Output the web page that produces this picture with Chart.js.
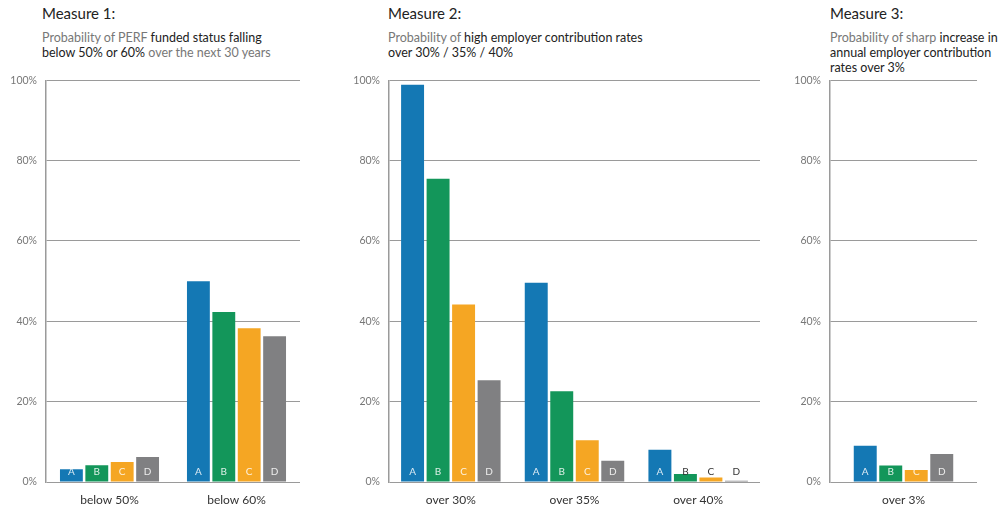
<!DOCTYPE html>
<html>
<head>
<meta charset="utf-8">
<script src="https://cdn.jsdelivr.net/npm/chart.js@4.4.0/dist/chart.umd.min.js"></script>
<style>
  body { margin: 0; background: #fff; font-family: Lato, "Open Sans", sans-serif; }
  #page { position: relative; width: 1005px; height: 507px; overflow: hidden; }
  .head { position: absolute; top: 4px; font-size: 15px; color: #222; }
  .sub { position: absolute; top: 30px; font-size: 12.5px; line-height: 15px; color: #777; }
  .sub b { font-weight: normal; color: #222; }
  .box { position: absolute; top: 65px; height: 442px; }
</style>
</head>
<body>
<div id="page">
  <div class="head" style="left:42px">Measure 1:</div>
  <div class="sub" style="left:42px">Probability of PERF <b>funded status falling<br>below 50% or 60%</b> over the next 30 years</div>
  <div class="head" style="left:388px">Measure 2:</div>
  <div class="sub" style="left:388px">Probability of <b>high employer contribution rates<br>over 30% / 35% / 40%</b></div>
  <div class="head" style="left:830px">Measure 3:</div>
  <div class="sub" style="left:830px">Probability of sharp <b>increase in<br>annual employer contribution<br>rates over 3%</b></div>

  <div class="box" style="left:0px;width:310px"><canvas id="chart1"></canvas></div>
  <div class="box" style="left:343px;width:427px"><canvas id="chart2"></canvas></div>
  <div class="box" style="left:784px;width:203px"><canvas id="chart3"></canvas></div>
</div>
<script>
// Measure 1: funded status below 50% / 60%
var m1Labels = ['below 50%', 'below 60%'];
var m1A = [3.2, 50.0];
var m1B = [4.2, 42.3];
var m1C = [5.0, 38.3];
var m1D = [6.2, 36.3];

// Measure 2: contribution rates over 30% / 35% / 40%
var m2Labels = ['over 30%', 'over 35%', 'over 40%'];
var m2A = [98.9, 49.6, 8.0];
var m2B = [75.5, 22.6, 2.0];
var m2C = [44.2, 10.4, 1.1];
var m2D = [25.3, 5.3, 0.3];

// Measure 3: sharp increase over 3%
var m3Labels = ['over 3%'];
var m3A = [9.0];
var m3B = [4.1];
var m3C = [3.0];
var m3D = [7.0];

var yTicks = [0, 20, 40, 60, 80, 100];
var seriesNames = ['A', 'B', 'C', 'D'];
var seriesColors = ['#1478b4', '#13965a', '#f5a623', '#808082'];

// letters at the foot of each bar
var letterPlugin = {
  id: 'letters',
  afterDatasetsDraw: function(chart) {
    var ctx = chart.ctx;
    var bottom = chart.chartArea.bottom;
    ctx.save();
    ctx.font = '10px Lato, sans-serif';
    ctx.textAlign = 'center';
    ctx.textBaseline = 'middle';
    chart.data.datasets.forEach(function(ds, i) {
      var meta = chart.getDatasetMeta(i);
      meta.data.forEach(function(bar, j) {
        ctx.fillStyle = ds.data[j] >= 2.5 ? 'rgba(255,255,255,0.85)' : '#333';
        ctx.fillText(ds.label, bar.x, bottom - 10);
      });
    });
    ctx.restore();
  }
};

function makeChart(id, labels, a, b, c, d, catPct) {
  var values = [a, b, c, d];
  var datasets = [];
  for (var i = 0; i < 4; i++) {
    datasets.push({
      label: seriesNames[i],
      data: values[i],
      backgroundColor: seriesColors[i],
      borderWidth: 0,
      categoryPercentage: catPct,
      barPercentage: 0.9
    });
  }
  return new Chart(document.getElementById(id), {
    type: 'bar',
    data: { labels: labels, datasets: datasets },
    plugins: [letterPlugin],
    options: {
      responsive: true,
      maintainAspectRatio: false,
      animation: false,
      layout: { padding: { top: 5, right: 10, left: 0, bottom: 0 } },
      plugins: { legend: { display: false }, tooltip: { enabled: false } },
      scales: {
        x: {
          grid: { display: false },
          border: { display: false },
          ticks: { color: '#333', font: { family: 'Lato', size: 12 }, padding: 3 },
          afterFit: function(scale) { scale.height = 25; }
        },
        y: {
          min: 0,
          max: 100,
          afterBuildTicks: function(scale) {
            scale.ticks = yTicks.map(function(v) { return { value: v }; });
          },
          grid: { color: '#9a9a9a', lineWidth: 1, drawTicks: false },
          border: { display: true, color: '#9a9a9a', width: 1.5 },
          ticks: {
            color: '#777',
            font: { family: 'Lato', size: 10.5 },
            padding: 9,
            callback: function(v) { return v + '%'; }
          },
          afterFit: function(scale) { scale.width = 46; }
        }
      }
    }
  });
}

makeChart('chart1', m1Labels, m1A, m1B, m1C, m1D, 0.80);
makeChart('chart2', m2Labels, m2A, m2B, m2C, m2D, 0.825);
makeChart('chart3', m3Labels, m3A, m3B, m3C, m3D, 0.694);
</script>
</body>
</html>
